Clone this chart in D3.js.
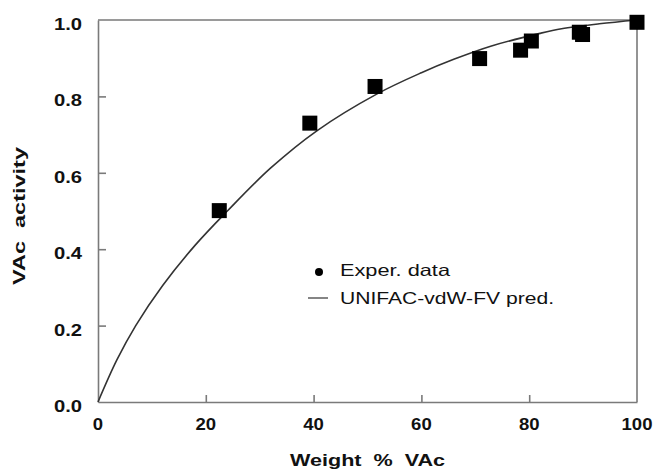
<!DOCTYPE html>
<html>
<head>
<meta charset="utf-8">
<script src="https://cdn.jsdelivr.net/npm/d3@7"></script>
<style>
  html, body { margin: 0; padding: 0; background: #fff; }
  svg { display: block; }
  text { font-family: "Liberation Sans", Arial, sans-serif; fill: #111; white-space: pre; }
</style>
</head>
<body>
<svg id="chart" width="653" height="470"></svg>
<script>
// Experimental data (weight % VAc, VAc activity)
const expWeight = [22.5, 39.3, 51.4, 70.8, 78.4, 80.4, 89.3, 89.9, 100];
const expActivity = [0.501, 0.730, 0.826, 0.899, 0.921, 0.945, 0.968, 0.962, 0.994];

// UNIFAC-vdW-FV prediction curve
const predWeight = [0, 3.5, 7, 12, 18, 24, 32, 40.6, 51.7, 60, 66, 73, 82, 86, 93, 100];
const predActivity = [0, 0.11, 0.2, 0.305, 0.41, 0.5, 0.612, 0.71, 0.806, 0.862, 0.897, 0.932, 0.965, 0.977, 0.99, 1.0];

// Axis ticks
const xTicks = [0, 20, 40, 60, 80, 100];
const yTicks = [0.0, 0.2, 0.4, 0.6, 0.8, 1.0];

const xTitle = "Weight  %  VAc";
const yTitle = "VAc  activity";
const legendLabels = ["Exper. data", "UNIFAC-vdW-FV pred."];

const svg = d3.select("#chart");
const L = 98, R = 637, T = 20, B = 402;
const x = d3.scaleLinear().domain([0, 100]).range([L, R]);
const y = d3.scaleLinear().domain([0, 1]).range([B, T]);

const axisColor = "#7a7a7a";

// width estimate for stretched labels
function labelWidth(s) {
  let w = 0;
  for (const c of s) w += (c === ".") ? 7.5 : 10.3;
  return w;
}

// Frame (top & right)
svg.append("path")
  .attr("d", `M${L},${T}H${R}V${B}`)
  .attr("fill", "none").attr("stroke", axisColor).attr("stroke-width", 1.6);

// X axis (ticks inward)
const xAxis = d3.axisBottom(x).tickValues(xTicks.filter(d => d > 0 && d < 100))
  .tickSize(-7).tickFormat("").tickSizeOuter(0);
const gx = svg.append("g").attr("transform", `translate(0,${B})`).call(xAxis);
gx.select(".domain").attr("stroke", axisColor).attr("stroke-width", 1.6);
gx.selectAll(".tick line").attr("stroke", axisColor).attr("stroke-width", 1.6);

// Y axis (ticks inward)
const yAxis = d3.axisLeft(y).tickValues(yTicks.filter(d => d > 0 && d < 1))
  .tickSize(-8).tickFormat("").tickSizeOuter(0);
const gy = svg.append("g").attr("transform", `translate(${L},0)`).call(yAxis);
gy.select(".domain").attr("stroke", axisColor).attr("stroke-width", 1.6);
gy.selectAll(".tick line").attr("stroke", axisColor).attr("stroke-width", 1.6);

// X tick labels
svg.append("g").selectAll("text").data(xTicks).join("text")
  .attr("x", d => x(d)).attr("y", B + 28)
  .attr("text-anchor", "middle")
  .attr("font-size", 16).attr("font-weight", "bold")
  .attr("textLength", d => labelWidth(String(d)))
  .attr("lengthAdjust", "spacingAndGlyphs")
  .text(d => String(d));

// Y tick labels
svg.append("g").selectAll("text").data(yTicks).join("text")
  .attr("x", 82).attr("y", d => y(d) + 10)
  .attr("text-anchor", "end")
  .attr("font-size", 16.5).attr("font-weight", "bold")
  .attr("textLength", d => labelWidth(d.toFixed(1)))
  .attr("lengthAdjust", "spacingAndGlyphs")
  .text(d => d.toFixed(1));

// Axis titles
svg.append("text")
  .attr("x", (L + R) / 2).attr("y", 466)
  .attr("text-anchor", "middle")
  .attr("font-size", 16.5).attr("font-weight", "bold")
  .attr("textLength", 155).attr("lengthAdjust", "spacingAndGlyphs")
  .text(xTitle);

svg.append("text")
  .attr("transform", `translate(25,${(T + B) / 2 + 5}) rotate(-90)`)
  .attr("text-anchor", "middle")
  .attr("font-size", 17).attr("font-weight", "bold")
  .attr("textLength", 138).attr("lengthAdjust", "spacingAndGlyphs")
  .text(yTitle);

// Prediction curve
const pred = predWeight.map((w, i) => [w, predActivity[i]]);
svg.append("path")
  .datum(pred)
  .attr("fill", "none").attr("stroke", "#333").attr("stroke-width", 1.6)
  .attr("d", d3.line().x(d => x(d[0])).y(d => y(d[1])).curve(d3.curveCatmullRom.alpha(0.5)));

// Experimental squares
const sq = 15;
const exp = expWeight.map((w, i) => [w, expActivity[i]]);
svg.append("g").selectAll("rect").data(exp).join("rect")
  .attr("x", d => x(d[0]) - sq / 2).attr("y", d => y(d[1]) - sq / 2)
  .attr("width", sq).attr("height", sq)
  .attr("fill", "#000");

// Legend
const lg = svg.append("g");
lg.append("circle").attr("cx", 319).attr("cy", 272).attr("r", 4).attr("fill", "#000");
lg.append("text").attr("x", 340).attr("y", 276)
  .attr("font-size", 16.5)
  .attr("textLength", 110).attr("lengthAdjust", "spacingAndGlyphs")
  .text(legendLabels[0]);
lg.append("line").attr("x1", 308).attr("x2", 328).attr("y1", 298).attr("y2", 298)
  .attr("stroke", "#666").attr("stroke-width", 1.6);
lg.append("text").attr("x", 340).attr("y", 304)
  .attr("font-size", 16.5)
  .attr("textLength", 214).attr("lengthAdjust", "spacingAndGlyphs")
  .text(legendLabels[1]);
</script>
</body>
</html>
